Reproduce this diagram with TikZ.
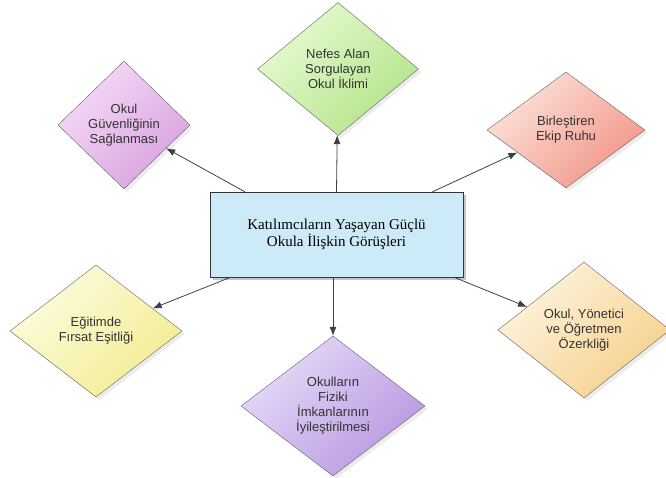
\documentclass[tikz,border=0pt]{standalone}
\usepackage{fontspec}
\setmainfont{Liberation Serif}
\setsansfont{Liberation Sans}
\usetikzlibrary{arrows.meta, shapes.geometric, shadows}

\definecolor{coreblue}{RGB}{204,234,248}
\definecolor{greenlight}{RGB}{230,250,210}
\definecolor{greendark}{RGB}{180,228,138}
\definecolor{pinklight}{RGB}{246,218,246}
\definecolor{pinkdark}{RGB}{216,162,224}
\definecolor{salmonlight}{RGB}{252,226,218}
\definecolor{salmondark}{RGB}{242,150,136}
\definecolor{yellowlight}{RGB}{252,252,222}
\definecolor{yellowdark}{RGB}{244,236,146}
\definecolor{orangelight}{RGB}{253,244,222}
\definecolor{orangedark}{RGB}{246,208,140}
\definecolor{violetlight}{RGB}{230,218,248}
\definecolor{violetdark}{RGB}{184,152,224}

\begin{document}
\begin{tikzpicture}[
        x=1pt, y=-1pt,
        theme/.style={diamond, draw=black!60, inner sep=0pt, align=center,
            font=\sffamily\fontsize{13}{15}\selectfont, text=black!80,
            drop shadow={shadow xshift=3pt, shadow yshift=-3pt, opacity=0.15}},
        core/.style={rectangle, draw=black!80, fill=coreblue, minimum width=253pt,
            minimum height=85pt, align=center, font=\fontsize{15}{17}\selectfont,
            drop shadow={shadow xshift=3pt, shadow yshift=-3pt, opacity=0.45}},
        arrow/.style={-{Latex[length=9pt, width=7pt]}, draw=black!75, line width=0.8pt}
    ]

        \useasboundingbox (0,0) rectangle (666,477);

        \node[core] (views) at (336.5,234.5) {Katılımcıların Yaşayan Güçlü\\Okula İlişkin Görüşleri};

        \node[theme, minimum width=161pt, minimum height=133pt, top color=greenlight, bottom color=greendark, shading angle=45]
            (climate) at (338,69) {Nefes Alan\\Sorgulayan\\Okul İklimi};
        \node[theme, minimum width=132pt, minimum height=128pt, top color=pinklight, bottom color=pinkdark, shading angle=45]
            (safety) at (124,125) {Okul\\Güvenliğinin\\Sağlanması};
        \node[theme, minimum width=158pt, minimum height=116pt, top color=salmonlight, bottom color=salmondark, shading angle=45]
            (team) at (566,130) {Birleştiren\\Ekip Ruhu};
        \node[theme, minimum width=172pt, minimum height=132pt, top color=yellowlight, bottom color=yellowdark, shading angle=45]
            (equity) at (96,331) {Eğitimde\\Fırsat Eşitliği};
        \node[theme, minimum width=172pt, minimum height=136pt, top color=orangelight, bottom color=orangedark, shading angle=45]
            (autonomy) at (584,330) {Okul, Yönetici\\ve Öğretmen\\Özerkliği};
        \node[theme, minimum width=184pt, minimum height=140pt, top color=violetlight, bottom color=violetdark, shading angle=45]
            (facilities) at (333,406) {Okulların\\Fiziki\\İmkanlarının\\İyileştirilmesi};

        \draw[arrow] (views.north) -- (climate);
        \draw[arrow] (views.155) -- (safety);
        \draw[arrow] (views.24) -- (team);
        \draw[arrow] (views.202) -- (equity);
        \draw[arrow] (views.340) -- (autonomy);
        \draw[arrow] (views.south -| facilities) -- (facilities);

    \end{tikzpicture}
\end{document}
